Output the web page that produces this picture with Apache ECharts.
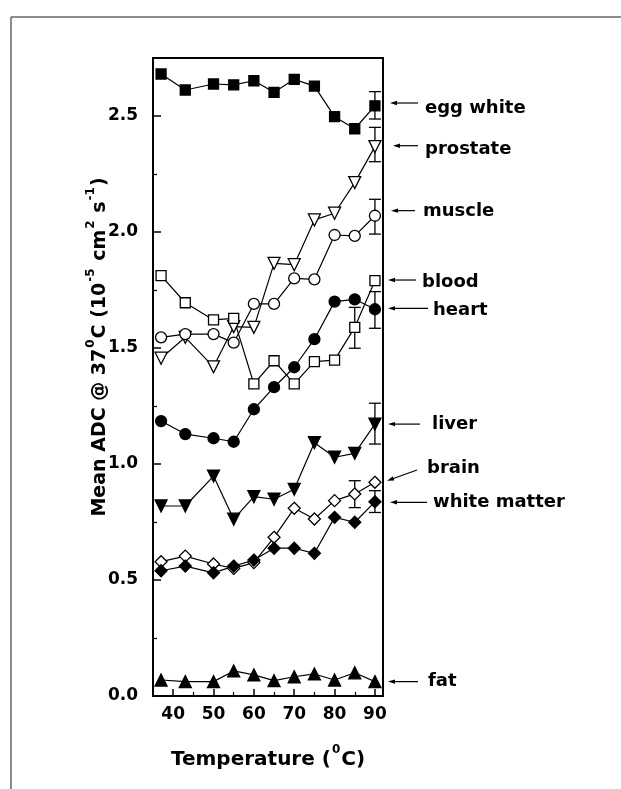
<!DOCTYPE html>
<html><head><meta charset="utf-8">
<script src="https://cdn.jsdelivr.net/npm/echarts@6/dist/echarts.min.js"></script>
<style>html,body{margin:0;padding:0;background:#fff}#c{width:621px;height:789px}</style>
</head><body><div id="c"></div>
<script>
// ---- data ----
const temperature = [37, 43, 50, 55, 60, 65, 70, 75, 80, 85, 90];
const eggWhite    = [2.681, 2.612, 2.638, 2.634, 2.652, 2.602, 2.658, 2.629, 2.497, 2.445, 2.544];
const prostate    = [1.456, 1.546, 1.419, 1.592, 1.589, 1.865, 1.859, 2.052, 2.081, 2.213, 2.368];
const muscle      = [1.546, 1.560, 1.560, 1.523, 1.690, 1.690, 1.800, 1.796, 1.987, 1.983, 2.070];
const blood       = [1.812, 1.695, 1.621, 1.628, 1.345, 1.445, 1.345, 1.441, 1.448, 1.589, 1.790];
const heart       = [1.185, 1.129, 1.111, 1.096, 1.236, 1.331, 1.417, 1.538, 1.700, 1.710, 1.667];
const liver       = [0.819, 0.819, 0.948, 0.762, 0.859, 0.848, 0.891, 1.092, 1.029, 1.046, 1.172];
const brain       = [0.579, 0.603, 0.569, 0.550, 0.575, 0.684, 0.809, 0.763, 0.842, 0.871, 0.921];
const whiteMatter = [0.540, 0.560, 0.531, 0.560, 0.586, 0.637, 0.637, 0.615, 0.770, 0.749, 0.837];
const fat         = [0.069, 0.062, 0.062, 0.108, 0.091, 0.066, 0.083, 0.095, 0.069, 0.100, 0.062];

const errorBarX    = [90, 90, 90, 85, 90, 90, 85, 90];
const errorBarLow  = [2.487, 2.303, 1.991, 1.499, 1.585, 1.086, 0.812, 0.791];
const errorBarHigh = [2.605, 2.451, 2.141, 1.675, 1.743, 1.262, 0.928, 0.885];

const xTickLabels = [40, 50, 60, 70, 80, 90];
const xMinorTicks = [45, 55, 65, 75, 85];
const yTickLabels = [0, 0.5, 1.0, 1.5, 2.0, 2.5];
const yMinorTicks = [0.25, 0.75, 1.25, 1.75, 2.25];

const annotationNames  = ['egg white', 'prostate', 'muscle', 'blood', 'heart', 'liver', 'brain', 'white matter', 'fat'];
const annotationValues = [2.556, 2.372, 2.092, 1.793, 1.671, 1.172, 0.928, 0.835, 0.062];

// ---- styling / layout ----
const FONT = 'DejaVu Sans';
const pair = (ys) => temperature.map((t, i) => [t, ys[i]]);
function lineSeries(ys, symbol, filled, size, rotate) {
  return {
    type: 'line', data: pair(ys), symbol: symbol, symbolSize: size, symbolRotate: rotate || 0,
    showAllSymbol: true, z: 3,
    lineStyle: { color: '#000', width: 1.2 },
    itemStyle: { color: filled ? '#000' : '#fff', borderColor: '#000', borderWidth: 1.3 },
    emphasis: { disabled: true }, animation: false
  };
}
function renderErr(params, api) {
  const x = api.value(0), lo = api.value(1), hi = api.value(2);
  const a = api.coord([x, lo]), b = api.coord([x, hi]);
  const hw = 6, st = { stroke: '#000', lineWidth: 1.3 };
  return { type: 'group', children: [
    { type: 'line', shape: { x1: a[0], y1: a[1], x2: b[0], y2: b[1] }, style: st },
    { type: 'line', shape: { x1: a[0] - hw, y1: a[1], x2: a[0] + hw, y2: a[1] }, style: st },
    { type: 'line', shape: { x1: b[0] - hw, y1: b[1], x2: b[0] + hw, y2: b[1] }, style: st }
  ]};
}
function richFor(size) {
  return {
    t: { fontFamily: FONT, fontWeight: 'bold', fontSize: size, fill: '#000', color: '#000', lineHeight: size + 6, verticalAlign: 'bottom' },
    s: { fontFamily: FONT, fontWeight: 'bold', fontSize: 12, fill: '#000', color: '#000', lineHeight: size + 6, verticalAlign: 'top', padding: [0, 1, 0, 1] }
  };
}
const tickLabel = { color: '#000', fontFamily: FONT, fontWeight: 'bold', fontSize: 17 };

const chart = echarts.init(document.getElementById('c'), null, { renderer: 'canvas' });
const option = {
  animation: false,
  backgroundColor: '#fff',
  grid: { left: 153, right: 238, top: 58, bottom: 93, show: true, borderColor: '#000', borderWidth: 2, containLabel: false },
  xAxis: [
    { type: 'value', min: 35, max: 92, position: 'bottom',
      axisLine: { show: true, lineStyle: { color: '#000', width: 2 } },
      axisTick: { inside: true, length: 7, customValues: xTickLabels, lineStyle: { color: '#000', width: 1.5 } },
      axisLabel: Object.assign({ customValues: xTickLabels, margin: 10 }, tickLabel),
      splitLine: { show: false },
      name: '{t|Temperature (}{s|0}{t|C)}', nameLocation: 'middle', nameGap: 48,
      nameTextStyle: { rich: richFor(20) } },
    { type: 'value', min: 35, max: 92, position: 'bottom', offset: 0,
      axisLine: { show: false },
      axisTick: { inside: true, length: 4, customValues: xMinorTicks, lineStyle: { color: '#000', width: 1.2 } },
      axisLabel: { show: false }, splitLine: { show: false } }
  ],
  yAxis: [
    { type: 'value', min: 0, max: 2.75, position: 'left',
      axisLine: { show: true, lineStyle: { color: '#000', width: 2 } },
      axisTick: { inside: true, length: 8, customValues: yTickLabels, lineStyle: { color: '#000', width: 1.5 } },
      axisLabel: Object.assign({ customValues: yTickLabels, margin: 15, formatter: v => Number(v).toFixed(1) }, tickLabel),
      splitLine: { show: false } },
    { type: 'value', min: 0, max: 2.75, position: 'left', offset: 0,
      axisLine: { show: false },
      axisTick: { inside: true, length: 4, customValues: yMinorTicks, lineStyle: { color: '#000', width: 1.2 } },
      axisLabel: { show: false }, splitLine: { show: false } }
  ],
  series: [
    { type: 'custom', renderItem: renderErr, z: 2, animation: false,
      data: errorBarX.map((x, i) => [x, errorBarLow[i], errorBarHigh[i]]),
      encode: { x: 0, y: [1, 2] } },
    lineSeries(eggWhite, 'rect', true, 10),
    lineSeries(prostate, 'triangle', false, 12, 180),
    lineSeries(muscle, 'circle', false, 11),
    lineSeries(blood, 'rect', false, 10),
    lineSeries(heart, 'circle', true, 11),
    lineSeries(liver, 'triangle', true, 12, 180),
    lineSeries(brain, 'diamond', false, 12),
    lineSeries(whiteMatter, 'diamond', true, 12),
    lineSeries(fat, 'triangle', true, 12)
  ]
};
chart.setOption(option);

// annotation layout: [tipDx, tailDx, textDx, textDy, tailDy] relative to right plot edge
const annLayout = [
  [7, 35, 42, 5, 0], [10, 35, 42, 4, 0], [8, 32, 40, 1, 0], [5, 33, 39, 2, 0],
  [5, 45, 50, 2, 0], [5, 37, 49, 0, 0], [4, 34, 44, -12, -10.7], [7, 44, 50, 0, 0], [5, 35, 45, 0, 0]
];
const graphics = [
  { type: 'line', shape: { x1: 11, y1: 17, x2: 621, y2: 17 }, style: { stroke: '#666', lineWidth: 1.5 } },
  { type: 'line', shape: { x1: 11, y1: 17, x2: 11, y2: 789 }, style: { stroke: '#666', lineWidth: 1.5 } },
  { type: 'text', x: 97, y: 347, rotation: Math.PI / 2,
    style: { text: '{t|Mean ADC @ 37}{s|0}{t|C (10}{s|-5}{t| cm}{s|2}{t| s}{s|-1}{t|)}',
             rich: richFor(19), fill: '#000', align: 'center', verticalAlign: 'middle' } }
];
annotationNames.forEach((name, i) => {
  const p = chart.convertToPixel({ xAxisIndex: 0, yAxisIndex: 0 }, [92, annotationValues[i]]);
  const L = annLayout[i];
  const tx = p[0] + L[0], ty = p[1];
  const ex = p[0] + L[1], ey = p[1] + L[4];
  const dx = ex - tx, dy = ey - ty, len = Math.hypot(dx, dy), ux = dx / len, uy = dy / len;
  const hl = 7, hw = 2.2;
  graphics.push({ type: 'line', shape: { x1: tx + ux * 3, y1: ty + uy * 3, x2: ex, y2: ey }, style: { stroke: '#000', lineWidth: 1.2 } });
  graphics.push({ type: 'polygon', shape: { points: [[tx, ty], [tx + ux * hl - uy * hw, ty + uy * hl + ux * hw], [tx + ux * hl + uy * hw, ty + uy * hl - ux * hw]] }, style: { fill: '#000' } });
  graphics.push({ type: 'text', x: p[0] + L[2], y: p[1] + L[3], style: { text: name, fill: '#000', font: 'bold 18px "DejaVu Sans"', align: 'left', verticalAlign: 'middle' } });
});
chart.setOption({ graphic: graphics });
</script>
</body></html>
